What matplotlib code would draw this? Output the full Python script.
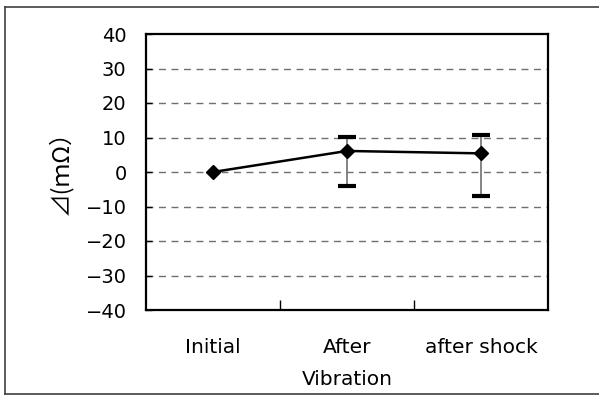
import matplotlib
matplotlib.use("Agg")
import matplotlib.pyplot as plt
from matplotlib.lines import Line2D

plt.rcParams['font.family'] = ['DejaVu Sans', 'Noto Sans CJK JP']

categories = ["Initial", "After\nVibration", "after shock"]
values = [0.0, 6.1, 5.4]
err_upper = [0.0, 10.2, 10.8]
err_lower = [0.0, -4.0, -6.9]
yticks = [40, 30, 20, 10, 0, -10, -20, -30, -40]

W, H = 599, 396
fig = plt.figure(figsize=(W/100, H/100), dpi=100)
# outer chart-area border (top, left, bottom)
bx0, by0, by1 = 5/W, 1 - 394/H, 1 - 6.5/H
for xs, ys in [([bx0, 1.0], [by1, by1]), ([bx0, bx0], [by0, by1]), ([bx0, 1.0], [by0, by0])]:
    fig.add_artist(Line2D(xs, ys, transform=fig.transFigure, color='#404040', linewidth=1.2))

ax = fig.add_axes([146/W, 1 - 310/H, 402/W, 276/H])

x = list(range(len(categories)))
lo = [v - l for v, l in zip(values, err_lower)]
hi = [u - v for v, u in zip(values, err_upper)]
ax.errorbar(x, values, yerr=[lo, hi], fmt='none', ecolor='#707070', elinewidth=1.2,
            capsize=0, zorder=3)
for xi, l, u in zip(x, err_lower, err_upper):
    if u != l:
        ax.plot([xi, xi], [l, u], linestyle='none', marker='_', markersize=13,
                markeredgewidth=3, color='black', zorder=4)
ax.plot(x, values, color='black', linewidth=1.8, marker='D', markersize=7.5, zorder=5)

ax.set_xlim(-0.5, 2.5)
ax.set_ylim(-40, 40)
ax.set_yticks(yticks)
ax.set_yticklabels([str(t).replace('-', '\u2212') for t in yticks])
ax.set_xticks([0.5, 1.5])
ax.set_xticks(x, minor=True)
ax.set_xticklabels([])
ax.set_xticklabels(categories, minor=True)
ax.tick_params(axis='x', which='major', direction='in', length=7, width=1)
ax.tick_params(axis='x', which='minor', length=0, pad=20, labelsize=14.5)
ax.tick_params(axis='y', direction='in', length=4, width=1, pad=14, labelsize=14)
for t in ax.get_xticklabels(minor=True):
    t.set_linespacing(1.85)

for t in yticks[1:-1]:
    ax.axhline(t, color='#707070', linestyle=(0, (5, 4)), linewidth=1, zorder=1)

for s in ax.spines.values():
    s.set_linewidth(1.6)

fig.text(60/W, 1 - 167/H, "⊿(ｍΩ）", rotation=90, ha='center', va='center',
         fontsize=17, family=['Noto Sans CJK JP', 'DejaVu Sans'])

fig.savefig("out.png", dpi=100)
